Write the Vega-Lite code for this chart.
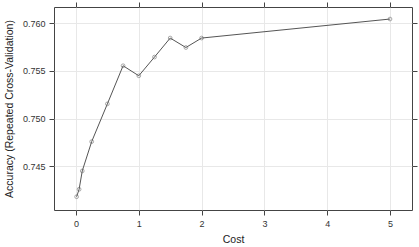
{
  "$schema": "https://vega.github.io/schema/vega-lite/v6.json",
  "width": 358,
  "height": 203,
  "autosize": "none",
  "padding": {"left": 54, "top": 7, "right": 7, "bottom": 37},
  "background": "white",
  "config": {
    "view": {"stroke": "#444", "strokeWidth": 1},
    "font": "Liberation Sans",
    "axis": {
      "labelFont": "Liberation Sans",
      "titleFont": "Liberation Sans",
      "labelColor": "#333",
      "titleColor": "#222",
      "labelFontSize": 9,
      "titleFontSize": 10.5,
      "titleFontWeight": "normal",
      "tickColor": "#444",
      "domain": false,
      "gridColor": "#e8e8e8",
      "gridWidth": 1,
      "tickSize": 5
    }
  },
  "data": {
    "values": [
      {"cost": 0.01, "acc": 0.74182},
      {"cost": 0.05, "acc": 0.74260},
      {"cost": 0.1, "acc": 0.74452},
      {"cost": 0.25, "acc": 0.74759},
      {"cost": 0.5, "acc": 0.75154},
      {"cost": 0.75, "acc": 0.75553},
      {"cost": 1, "acc": 0.75448},
      {"cost": 1.25, "acc": 0.75644},
      {"cost": 1.5, "acc": 0.75843},
      {"cost": 1.75, "acc": 0.75744},
      {"cost": 2, "acc": 0.75843},
      {"cost": 5, "acc": 0.76042}
    ]
  },
  "resolve": {"axis": {"x": "independent", "y": "independent"}},
  "layer": [
    {
      "mark": {"type": "line", "color": "#555", "strokeWidth": 1},
      "encoding": {
        "x": {"field": "cost", "type": "quantitative",
              "scale": {"domain": [-0.35, 5.35], "nice": false, "zero": false},
              "axis": {"orient": "bottom", "values": [0, 1, 2, 3, 4, 5], "title": "Cost", "labelPadding": 4, "titlePadding": 6, "grid": true}},
        "y": {"field": "acc", "type": "quantitative",
              "scale": {"domain": [0.74043, 0.76168], "nice": false, "zero": false},
              "axis": {"orient": "left", "values": [0.745, 0.75, 0.755, 0.76], "format": ".3f", "title": "Accuracy (Repeated Cross-Validation)", "labelPadding": 4, "titlePadding": 8, "grid": true}}
      }
    },
    {
      "mark": {"type": "point", "shape": "circle", "filled": false, "color": "#666", "size": 14, "strokeWidth": 0.8},
      "encoding": {
        "x": {"field": "cost", "type": "quantitative",
              "axis": {"orient": "top", "values": [0, 1, 2, 3, 4, 5], "labels": false, "title": null, "grid": false}},
        "y": {"field": "acc", "type": "quantitative",
              "axis": {"orient": "right", "values": [0.745, 0.75, 0.755, 0.76], "labels": false, "title": null, "grid": false}}
      }
    }
  ]
}
